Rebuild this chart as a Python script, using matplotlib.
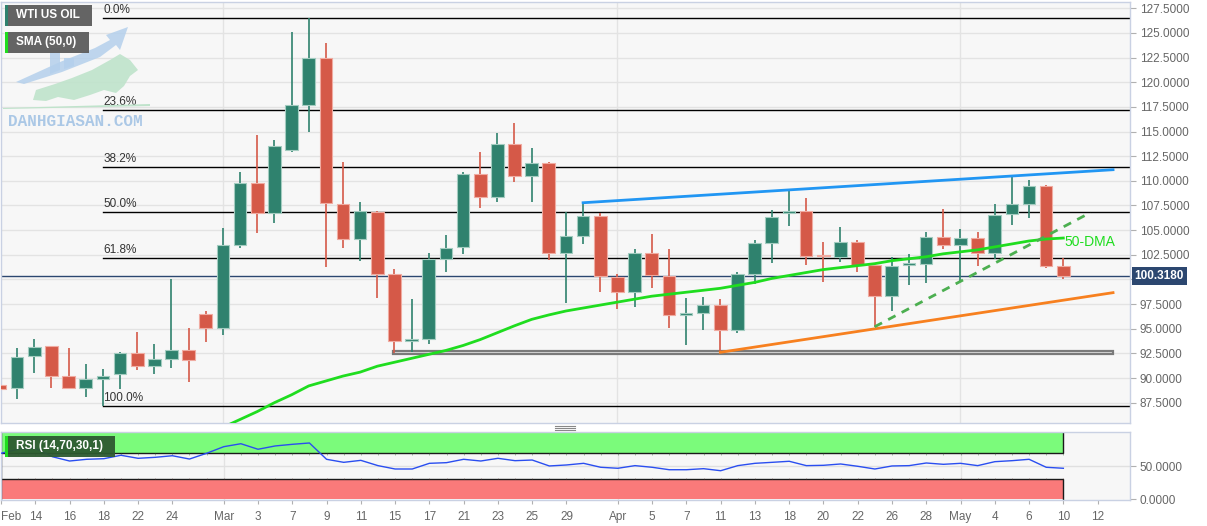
"""
WTI US OIL daily candles with SMA(50), fib levels, trendlines and RSI pane
"""

import numpy as np
import matplotlib.pyplot as plt
import matplotlib.transforms as mtransforms
from matplotlib.patches import Rectangle, Polygon

plt.rcParams['font.family'] = ['Liberation Sans', 'DejaVu Sans']

# ---- data (bars start at Feb 10, index -2) ----
first_bar = -2
opens = [89.3, 88.96, 92.27, 93.2, 90.24, 88.96, 89.93, 90.4, 92.5, 91.25,
         91.9, 92.84, 96.47, 95.1, 103.46, 109.81, 106.7, 113.13, 117.69, 122.49,
         107.65, 104.07, 106.84, 100.52, 93.8, 93.93, 102.07, 103.26, 110.66, 108.33,
         113.74, 110.52, 111.78, 102.65, 104.4, 106.44, 100.28, 98.76, 102.72, 100.35,
         96.4, 96.57, 97.41, 94.87, 100.6, 103.73, 106.7, 106.97, 102.5, 102.31,
         103.83, 101.47, 98.35, 101.44, 101.57, 104.34, 103.5, 104.24, 102.65, 106.64,
         107.65, 109.51, 101.36]
highs = [90.5, 93.0, 94.0, 93.3, 93.0, 91.4, 90.9, 92.6, 94.64, 93.5,
         100.0, 95.05, 96.8, 105.2, 110.87, 114.65, 114.15, 125.07, 126.49, 123.95,
         111.88, 107.83, 106.9, 101.03, 97.98, 102.65, 104.5, 110.9, 112.9, 114.82,
         115.84, 113.3, 111.9, 106.8, 107.8, 106.7, 100.6, 103.06, 104.6, 103.06,
         98.1, 98.25, 97.98, 100.8, 104.0, 107.05, 109.14, 108.23, 103.83, 105.35,
         104.0, 101.5, 102.31, 102.58, 104.84, 107.15, 105.08, 104.84, 107.65, 110.36,
         110.09, 109.6, 102.15]
lows = [88.1, 87.9, 90.5, 88.96, 88.9, 88.1, 87.13, 88.85, 90.8, 90.4,
        91.0, 89.6, 93.7, 94.4, 103.2, 104.7, 105.7, 112.9, 114.92, 101.3,
        103.16, 101.9, 98.1, 92.5, 92.67, 93.45, 100.8, 102.55, 107.2, 107.83,
        109.91, 107.83, 102.0, 97.64, 103.6, 98.76, 96.97, 97.24, 99.1, 95.1,
        93.35, 94.87, 92.61, 94.54, 99.5, 101.7, 105.47, 101.47, 99.77, 101.8,
        100.8, 95.15, 96.83, 99.44, 99.6, 103.06, 99.77, 101.36, 102.04, 105.5,
        106.2, 101.13, 100.0]
closes = [88.9, 92.17, 93.18, 90.24, 88.96, 89.87, 90.2, 92.5, 91.25, 91.9,
          92.84, 91.8, 95.1, 103.46, 109.81, 106.77, 113.53, 117.69, 122.49, 107.72,
          104.07, 106.91, 100.55, 93.8, 93.95, 102.04, 103.22, 110.66, 108.33, 113.74,
          110.52, 111.78, 102.65, 104.43, 106.44, 100.35, 98.76, 102.72, 100.45, 96.4,
          96.55, 97.41, 94.87, 100.52, 103.73, 106.3, 106.94, 102.38, 102.35, 103.83,
          101.47, 98.35, 101.36, 101.64, 104.34, 103.5, 104.24, 102.65, 106.54, 107.65,
          109.51, 101.4, 100.318]

sma_first_bar = 11
sma50 = [85.0, 85.8, 86.6, 87.5, 88.3, 89.2, 89.7, 90.2, 90.6, 91.2,
         91.6, 92.0, 92.4, 92.8, 93.3, 93.9, 94.6, 95.3, 95.95, 96.4,
         96.8, 97.1, 97.4, 97.7, 98.0, 98.3, 98.5, 98.7, 98.9, 99.1,
         99.4, 99.7, 100.1, 100.4, 100.7, 101.0, 101.2, 101.4, 101.6, 101.9,
         102.1, 102.3, 102.6, 102.8, 103.0, 103.3, 103.6, 103.9, 104.1, 104.2]

rsi14 = [69.7, 75.8, 77.3, 64.5, 58.0, 60.6, 61.5, 66.7, 62.1, 63.6,
         66.0, 61.0, 69.7, 79.7, 84.2, 75.8, 80.8, 83.3, 85.3, 60.6,
         56.0, 59.0, 51.0, 45.9, 45.9, 54.5, 55.5, 60.6, 58.0, 62.1,
         58.5, 59.5, 50.5, 52.0, 54.5, 48.5, 47.0, 51.0, 48.5, 44.8,
         44.8, 46.4, 43.3, 51.0, 54.5, 56.0, 57.6, 51.0, 51.5, 53.5,
         50.0, 45.9, 50.5, 51.0, 55.0, 53.0, 54.5, 51.0, 57.0, 58.5,
         60.6, 48.5, 47.0]

tick_bars = [-2, 0, 2, 4, 6, 8, 11, 13, 15, 17, 19, 21, 23, 25, 27, 29, 31,
             34, 36, 38, 40, 42, 44, 46, 48, 50, 52, 54, 56, 58, 60, 62]
tick_labels = ['Feb', '14', '16', '18', '22', '24', 'Mar', '3', '7', '9', '11', '15',
               '17', '21', '23', '25', '29', 'Apr', '5', '7', '11', '13', '18', '20',
               '22', '26', '28', 'May', '4', '6', '10', '12']
month_bars = [11, 34, 54]

fib_high, fib_low = 126.49, 87.13
fib_pcts = [0.0, 23.6, 38.2, 50.0, 61.8, 100.0]
fib_start_bar = 4

blue_x, blue_y = [32, 62.9], [107.78, 111.13]
orange_x, orange_y = [40, 62.9], [92.61, 98.66]
dash_x, dash_y = [49, 61.6], [95.2, 106.8]
support_x, support_y = [20.9, 62.9], [92.42, 92.78]
last_price = 100.318

# ---- layout ----
W, H = 1207, 526
fig = plt.figure(figsize=(W / 100, H / 100), dpi=100)
fig.patch.set_facecolor('white')


def fx(x):
    return x / W


def fy(y):
    return 1 - y / H


ax = fig.add_axes([fx(1), fy(422.7), 1129 / W, 420.7 / H])
rx = fig.add_axes([fx(1), fy(499.5), 1129 / W, 67.8 / H])

bar_w = 17.15
x0_px = 34.3
xlim = ((1 - x0_px) / bar_w, (1130 - x0_px) / bar_w)
for a in (ax, rx):
    a.set_facecolor('#f7f7f7')
    a.set_xlim(*xlim)
    for s in a.spines.values():
        s.set_color('#c9d1e3')
        s.set_linewidth(1)
    for m in month_bars:
        a.axvline(m, color='#e3e3e3', lw=1, zorder=0)

ax.set_ylim(85.47, 128.14)
rx.set_ylim(-0.3, 102.4)

# price grid; the 100.0000 label sits under the last price tag
yt = np.arange(87.5, 127.6, 2.5)
for v in yt:
    ax.axhline(v, color='#e3e3e3', lw=1, zorder=0)
ax.yaxis.tick_right()
ax.set_yticks(yt)
ax.set_yticklabels(['' if abs(v - 100) < 0.01 else f'{v:.4f}' for v in yt])
ax.tick_params(axis='y', colors='#b0b0b0', labelcolor='#666666', labelsize=8.5,
               length=4, pad=3)
ax.tick_params(axis='x', bottom=False, labelbottom=False)

# fibonacci levels
for p in fib_pcts:
    lvl = fib_high - p / 100 * (fib_high - fib_low)
    ax.plot([fib_start_bar, xlim[1]], [lvl, lvl], color='black', lw=1, zorder=2)
    ax.text(fib_start_bar + 0.02, lvl + 0.2, f'{p:.1f}%', fontsize=8.5, color='#333333',
            va='bottom', ha='left', zorder=2)

# current price line
ax.axhline(last_price, color='#2c4770', lw=1, zorder=2)

# support box
ax.add_patch(Rectangle((support_x[0], support_y[0]), support_x[1] - support_x[0],
                       support_y[1] - support_y[0], facecolor='#e6e6e6',
                       edgecolor='#7a7a7a', lw=1.6, zorder=3))

# candles
up_c, dn_c = '#2f826e', '#d55948'
up_e, dn_e = '#a3ccc0', '#f0aba1'
for k, (o, h, l, c) in enumerate(zip(opens, highs, lows, closes)):
    x = first_bar + k
    col, ecol = (up_c, up_e) if c >= o else (dn_c, dn_e)
    ax.plot([x, x], [l, h], color=col, lw=1.2, zorder=4, solid_capstyle='butt')
    lo, hi = min(o, c), max(o, c)
    ax.add_patch(Rectangle((x - 0.37, lo), 0.74, max(hi - lo, 0.12), facecolor=col,
                           edgecolor=ecol, lw=0.8, zorder=5))

# SMA 50
sx = np.arange(len(sma50)) + sma_first_bar
ax.plot(sx, sma50, color='#1fdd1f', lw=2, zorder=6)
ax.text(sx[-1] + 0.05, sma50[-1] - 0.45, '50-DMA', color='#1fdd1f', fontsize=10,
        va='center', ha='left', zorder=7)

# trendlines
ax.plot(blue_x, blue_y, color='#2196f3', lw=2, zorder=6)
ax.plot(orange_x, orange_y, color='#f7801f', lw=2, zorder=6)
ax.plot(dash_x, dash_y, color='#4caf50', lw=2, ls=(0, (3, 2.5)), zorder=6)

# last price tag
tr = mtransforms.blended_transform_factory(ax.transAxes, ax.transData)
ax.text(1.004, last_price, '100.3180', transform=tr, fontsize=8.5, fontweight='bold',
        color='white', va='center', ha='left', clip_on=False,
        bbox=dict(boxstyle='square,pad=0.25', facecolor='#2c4770', edgecolor='none'))

# ---- RSI pane ----
rx.axhline(50, color='#e0e0e0', lw=1, zorder=0)
last_bar = first_bar + len(rsi14) - 1
rx.add_patch(Rectangle((first_bar, 70), last_bar - first_bar, 30, facecolor='#7bfb7b',
                       edgecolor='none', zorder=1))
rx.add_patch(Rectangle((first_bar, 0), last_bar - first_bar, 30, facecolor='#fa7a7a',
                       edgecolor='none', zorder=1))
rx.plot([first_bar, last_bar, last_bar], [70, 70, 100], color='#1a1a1a', lw=1, zorder=2)
rx.plot([first_bar, last_bar, last_bar], [30, 30, 0], color='#1a1a1a', lw=1, zorder=2)
rx.plot([first_bar, first_bar], [0, 100], color='#1a1a1a', lw=1, zorder=2)
rb = np.arange(len(rsi14)) + first_bar
rx.vlines(rb, 67.5, 70, color='#3a6a3a', lw=0.6, alpha=0.5, zorder=2)
rx.vlines(rb, 30, 32.5, color='#6a3a3a', lw=0.6, alpha=0.5, zorder=2)
rx.plot(rb, rsi14, color='#2a4ef0', lw=1, zorder=3)

rx.yaxis.tick_right()
rx.set_yticks([0, 50])
rx.set_yticklabels(['0.0000', '50.0000'])
rx.tick_params(axis='y', colors='#b0b0b0', labelcolor='#666666', labelsize=8.5,
               length=4, pad=3)
rx.set_xticks(tick_bars)
rx.set_xticklabels(tick_labels)
rx.tick_params(axis='x', colors='#b0b0b0', labelcolor='#666666', labelsize=8.5,
               length=3, pad=5)
rx.get_xticklabels()[0].set_ha('left')

# ---- overlays in pixel space ----
def box(x, y, w, h, fc, alpha=1.0):
    fig.patches.append(Rectangle((fx(x), fy(y + h)), w / W, h / H, facecolor=fc,
                                 edgecolor='none', alpha=alpha,
                                 transform=fig.transFigure, zorder=10))


def poly(pts, fc, alpha=1.0):
    fig.patches.append(Polygon([(fx(a), fy(b)) for a, b in pts], closed=True,
                               facecolor=fc, edgecolor='none', alpha=alpha,
                               transform=fig.transFigure, zorder=1))


# watermark logo
poly([(16, 82), (60, 62), (95, 48), (110, 40), (106, 35), (128, 27), (120, 50),
      (116, 45), (100, 57), (62, 72), (24, 84)], '#b4d0ec', 0.85)
poly([(50, 48), (60, 48), (60, 70), (50, 74)], '#b4d0ec', 0.85)
poly([(64, 58), (74, 58), (74, 66), (64, 69)], '#b4d0ec', 0.85)
poly([(33, 100), (36, 90), (55, 84), (72, 78), (92, 70), (110, 60), (120, 54),
      (130, 60), (138, 70), (130, 76), (124, 86), (116, 93), (104, 90), (90, 95),
      (74, 100), (58, 97), (46, 101)], '#bfe3cb', 0.9)
poly([(3, 108), (150, 104), (150, 106), (3, 109)], '#bfe3cb')
fig.text(fx(8), fy(122), 'DANHGIASAN.COM', family=['Liberation Mono', 'DejaVu Sans Mono'],
         fontsize=11.5, fontweight='bold', color='#abc8e6', va='center', ha='left',
         zorder=1)

# legend boxes
box(5, 5, 87, 21, '#5c5c5c', 0.95)
box(5, 5, 2.5, 21, '#2f826e')
fig.text(fx(16), fy(15.5), 'WTI US OIL', color='white', fontsize=8.5, fontweight='bold',
         va='center', ha='left', zorder=11)
box(5, 32, 84, 21, '#5c5c5c', 0.95)
box(5, 32, 2.5, 21, '#1fdd1f')
fig.text(fx(16), fy(42.5), 'SMA (50,0)', color='white', fontsize=8.5, fontweight='bold',
         va='center', ha='left', zorder=11)
box(5, 436, 110, 21, '#2d5a30', 0.95)
box(5, 436, 2.5, 21, '#1fdd1f')
fig.text(fx(16), fy(446.5), 'RSI (14,70,30,1)', color='white', fontsize=8.5,
         fontweight='bold', va='center', ha='left', zorder=11)

# pane splitter
for yy in (425.5, 427.5, 429.5):
    fig.add_artist(plt.Line2D([fx(555), fx(575)], [fy(yy), fy(yy)], color='#888888',
                              lw=0.8, transform=fig.transFigure))

fig.savefig('out.png', dpi=100)
